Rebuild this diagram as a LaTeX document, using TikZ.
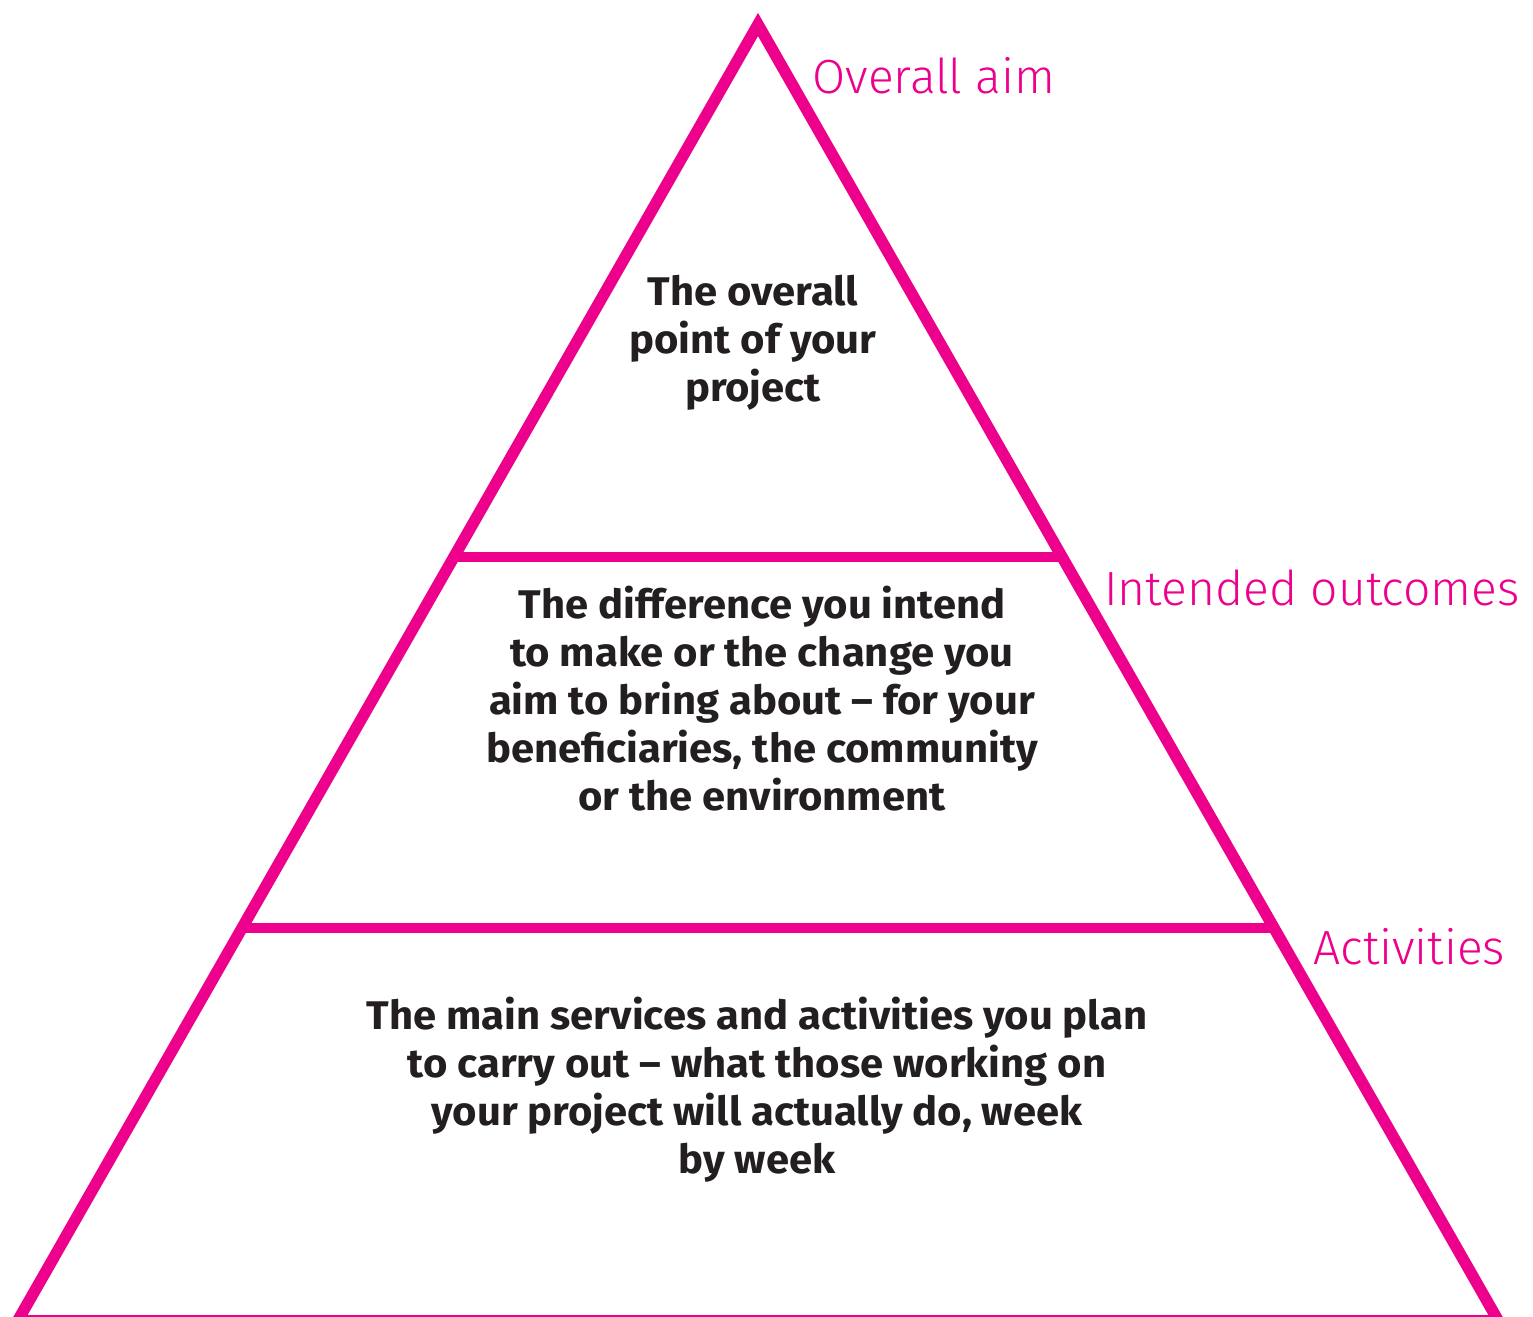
\documentclass[tikz,border=0pt]{standalone}
\usepackage{fontspec}
\setmainfont{Fira Sans}
\newfontfamily\labfont{Fira Sans Light}
\newfontfamily\bodyfont{Fira Sans Bold}[FakeStretch=1.045]
\definecolor{pink}{RGB}{236,0,140}
\definecolor{ink}{RGB}{35,31,32}
\begin{document}
\begin{tikzpicture}[x=0.5pt,y=-0.5pt,
  edge/.style={draw=pink, line width=5.75pt, line join=miter},
  tier/.style={draw=pink, line width=5pt},
  groundline/.style={draw=pink, line width=1.1pt},
  tierlabel/.style={anchor=base west, inner sep=0pt, text=pink, font=\labfont\fontsize{24pt}{29pt}\selectfont},
  bodyline/.style={anchor=base, inner sep=0pt, text=ink, font=\bodyfont\fontsize{20pt}{24pt}\selectfont}
]
\useasboundingbox (0,0) rectangle (1533,1317);
\clip (0,0) rectangle (1533,1317);
\coordinate (apex) at (758,24.5);
\coordinate (bl) at (17,1322);
\coordinate (br) at (1499,1322);
\coordinate (gl) at (14,1316);
\coordinate (gr) at (1502,1316);
\coordinate (t1l) at (452,557);
\coordinate (t1r) at (1064,557);
\coordinate (t2l) at (240,928);
\coordinate (t2r) at (1276,928);
\draw[edge] (bl) -- (apex) -- (br);
\draw[groundline] (gl) -- (gr);
\draw[tier] (t1l) -- (t1r);
\draw[tier] (t2l) -- (t2r);
\node[tierlabel] (lab1) at (812,93) {Overall aim};
\node[tierlabel] (lab2) at (1104,605) {Intended outcomes};
\node[tierlabel] (lab3) at (1313,964) {Activities};
\node[bodyline] (a1) at (753,305) {The overall};
\node[bodyline] (a2) at (753,353) {point of your};
\node[bodyline] (a3) at (753,401) {project};
\node[bodyline] (b1) at (762,618) {The difference you intend};
\node[bodyline] (b2) at (762,666) {to make or the change you};
\node[bodyline] (b3) at (762,714) {aim to bring about – for your};
\node[bodyline] (b4) at (762,762) {beneficiaries, the community};
\node[bodyline] (b5) at (762,810) {or the environment};
\node[bodyline] (c1) at (757,1029) {The main services and activities you plan};
\node[bodyline] (c2) at (757,1077) {to carry out – what those working on};
\node[bodyline] (c3) at (757,1125) {your project will actually do, week};
\node[bodyline] (c4) at (757,1173) {by week};
\end{tikzpicture}
\end{document}
